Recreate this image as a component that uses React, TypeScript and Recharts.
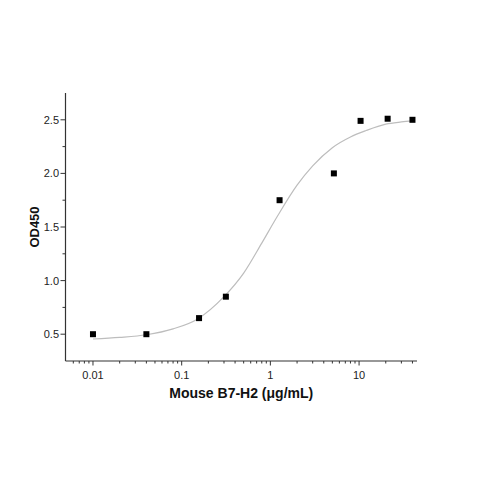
import React from "react"
import { ComposedChart, Line, Scatter, XAxis, YAxis, Label } from "recharts"

// measured points (concentration in µg/mL, OD450)
const concentrations = [0.01, 0.04, 0.157, 0.315, 1.27, 5.2, 10.4, 21, 40]
const odValues = [0.5, 0.5, 0.65, 0.85, 1.75, 2.0, 2.49, 2.51, 2.5]

// fitted curve at a few concentrations
const curveConc = [0.01, 0.02, 0.04, 0.08, 0.15, 0.3, 0.5, 0.8, 1.2, 2, 3, 5, 8, 12, 20, 30, 40]
const curveOd = [0.455, 0.47, 0.495, 0.55, 0.64, 0.85, 1.07, 1.35, 1.6, 1.89, 2.07, 2.24, 2.34, 2.4, 2.46, 2.48, 2.49]

const xMajorTicks = [0.01, 0.1, 1, 10]
const xMinorTicks = [
  0.006, 0.007, 0.008, 0.009,
  0.02, 0.03, 0.04, 0.05, 0.06, 0.07, 0.08, 0.09,
  0.2, 0.3, 0.4, 0.5, 0.6, 0.7, 0.8, 0.9,
  2, 3, 4, 5, 6, 7, 8, 9,
  20, 30, 40,
]
const yMajorTicks = [0.5, 1.0, 1.5, 2.0, 2.5]
const yMinorTicks = [0.75, 1.25, 1.75, 2.25]

const points = concentrations.map((x, i) => ({ x, y: odValues[i] }))
const curve = curveConc.map((x, i) => ({ x, y: curveOd[i] }))

const FONT = "'Liberation Sans', Arial, sans-serif"
const AXIS = "#333"
const TEXT = "#222"

function XTick(props: any) {
  const { x, y, payload } = props
  const major = xMajorTicks.includes(payload.value)
  return (
    <g>
      <line x1={x} x2={x} y1={y} y2={y + (major ? 4.5 : 2.5)} stroke={AXIS} strokeWidth={1} />
      {major && (
        <text x={x} y={y + 17.5} textAnchor="middle" fontSize={11} fontFamily={FONT} fill={TEXT}>
          {payload.value}
        </text>
      )}
    </g>
  )
}

function YTick(props: any) {
  const { x, y, payload } = props
  const major = yMajorTicks.includes(payload.value)
  return (
    <g>
      <line x1={x} x2={x - (major ? 5 : 3)} y1={y} y2={y} stroke={AXIS} strokeWidth={1} />
      {major && (
        <text x={x - 6.5} y={y + 4} textAnchor="end" fontSize={11} fontFamily={FONT} fill={TEXT}>
          {payload.value.toFixed(1)}
        </text>
      )}
    </g>
  )
}

function SquareDot(props: any) {
  const { cx, cy } = props
  return <rect x={cx - 3} y={cy - 3} width={6} height={6} fill="#000" />
}

export default function App() {
  return (
    <div style={{ position: "absolute", left: 0, top: 0, width: 479, height: 479, background: "#fff" }}>
      <ComposedChart width={479} height={479} margin={{ top: 93, right: 62, bottom: 58, left: 0 }}>
        <XAxis
          dataKey="x"
          type="number"
          scale="log"
          domain={[0.0049, 45]}
          allowDataOverflow
          ticks={[...xMinorTicks, ...xMajorTicks].sort((a, b) => a - b)}
          interval={0}
          tickSize={0}
          tickMargin={0}
          tick={<XTick />}
          height={60}
          stroke={AXIS}
          strokeWidth={1.2}
        >
          <Label
            value="Mouse B7-H2 (μg/mL)"
            position="insideTop"
            offset={27}
            style={{ fontFamily: FONT, fontSize: 14, fontWeight: "bold", fill: "#111" }}
          />
        </XAxis>
        <YAxis
          dataKey="y"
          type="number"
          domain={[0.25, 2.75]}
          allowDataOverflow
          ticks={[...yMajorTicks, ...yMinorTicks].sort((a, b) => a - b)}
          interval={0}
          tickSize={0}
          tickMargin={0}
          tick={<YTick />}
          width={65.5}
          stroke={AXIS}
          strokeWidth={1.2}
        >
          <Label
            content={({ viewBox }: any) => {
              const cx = 38.5
              const cy = viewBox.y + viewBox.height / 2
              return (
                <text
                  x={cx}
                  y={cy}
                  transform={`rotate(-90, ${cx}, ${cy})`}
                  textAnchor="middle"
                  fontFamily={FONT}
                  fontSize={13}
                  fontWeight="bold"
                  fill="#111"
                >
                  OD450
                </text>
              )
            }}
          />
        </YAxis>
        <Line
          data={curve}
          dataKey="y"
          type="monotone"
          stroke="#bdbdbd"
          strokeWidth={1.2}
          dot={false}
          activeDot={false}
          isAnimationActive={false}
        />
        <Scatter data={points} dataKey="y" fill="#000" shape={<SquareDot />} isAnimationActive={false} />
      </ComposedChart>
    </div>
  )
}
